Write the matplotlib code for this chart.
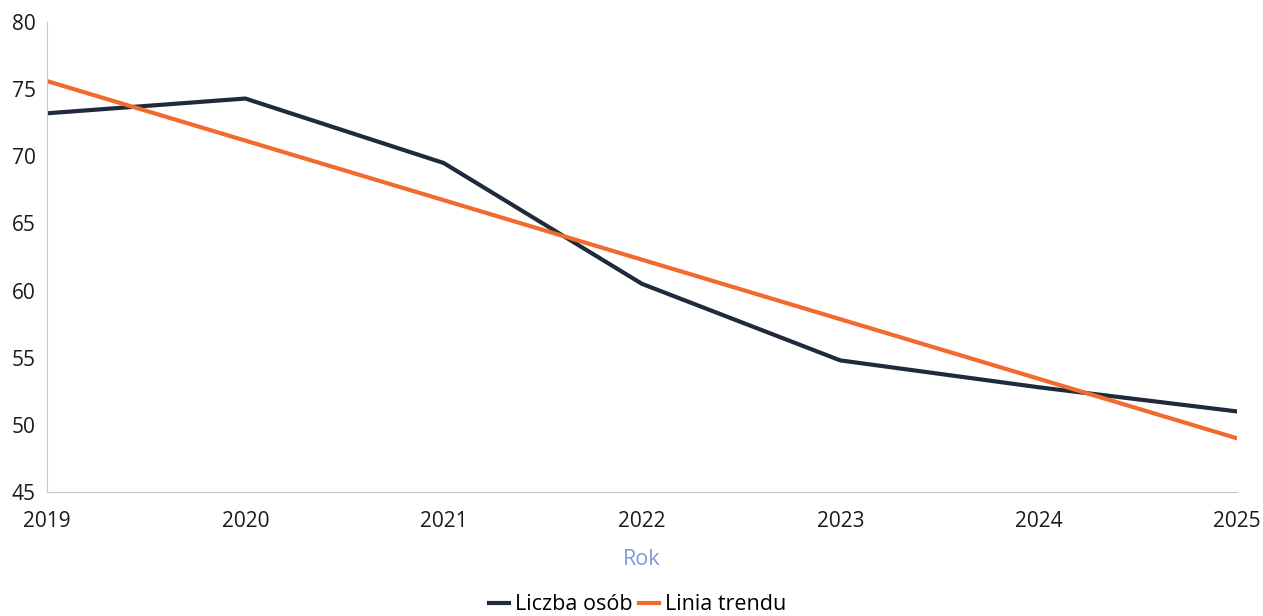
import numpy as np
import matplotlib
matplotlib.use("Agg")
import matplotlib.pyplot as plt

years = [2019, 2020, 2021, 2022, 2023, 2024, 2025]
liczba_osob = [73.2, 74.3, 69.5, 60.5, 54.8, 52.8, 51.0]
trend_start_end = [75.6, 49.0]
y_ticks = [45, 50, 55, 60, 65, 70, 75, 80]

plt.rcParams['font.family'] = ['Open Sans', 'DejaVu Sans']

fig = plt.figure(figsize=(12.63, 6.16), dpi=100)
ax = fig.add_axes([0.0372, 0.2013, 0.9422, 0.763])

ax.plot(years, liczba_osob, color='#1f2b3d', lw=3.0, label='Liczba osób',
        solid_joinstyle='miter')
ax.plot([years[0], years[-1]], trend_start_end, color='#f26a2e', lw=3.0,
        label='Linia trendu')

ax.set_xlim(years[0], years[-1])
ax.set_ylim(45, 80)
ax.set_xticks(years)
ax.set_yticks(y_ticks)
ax.tick_params(length=0, labelsize=15, colors='#1a1a1a')
ax.tick_params(axis='x', pad=14)
ax.tick_params(axis='y', pad=8)

for s in ['top', 'right']:
    ax.spines[s].set_visible(False)
for s in ['left', 'bottom']:
    ax.spines[s].set_color('#c8c8c8')
    ax.spines[s].set_linewidth(0.8)
    ax.spines[s].set_linestyle((0, (1, 1)))

ax.set_xlabel('Rok', fontsize=15.5, color='#7d9bd6', labelpad=12)

fig.legend(loc='lower center', bbox_to_anchor=(0.505, -0.03), ncol=2,
           frameon=False, fontsize=15.5, handlelength=0.9, handletextpad=0.3,
           columnspacing=0.3)

fig.savefig('out.png', dpi=100)
